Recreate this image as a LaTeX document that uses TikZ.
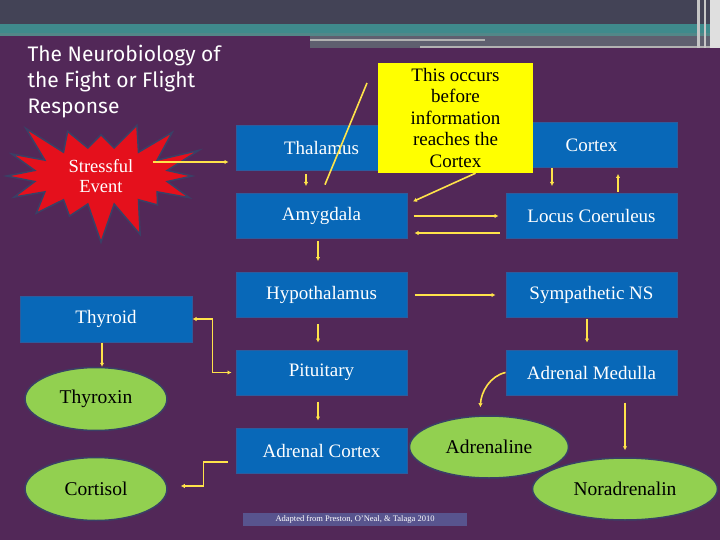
\documentclass[tikz,border=0pt]{standalone}
\usepackage{fontspec}
\setmainfont{Liberation Serif}
\newfontfamily\headfont{Fira Sans}
\usetikzlibrary{arrows.meta,shapes.symbols,shapes.geometric}

\definecolor{slidebg}{HTML}{522858}
\definecolor{topband}{HTML}{434356}
\definecolor{tealband}{HTML}{3F8A8C}
\definecolor{boxblue}{HTML}{0868B8}
\definecolor{boxedge}{HTML}{2C5C9E}
\definecolor{blobgreen}{HTML}{92D050}
\definecolor{blobedge}{HTML}{3A4066}
\definecolor{linkyel}{HTML}{FFE34A}
\definecolor{burstred}{HTML}{E5101C}
\definecolor{notebg}{HTML}{FFFF00}
\definecolor{credbg}{HTML}{58548E}

\begin{document}
\begin{tikzpicture}[x=1pt,y=-1pt,
  box/.style={rectangle,fill=boxblue,draw=boxedge,line width=1pt,
    minimum width=171pt,minimum height=45pt,text=white,
    font=\fontsize{19}{21}\selectfont},
  blob/.style={ellipse,fill=blobgreen,draw=blobedge,line width=1.5pt,
    inner sep=0pt,font=\fontsize{19.5}{21}\selectfont},
  link/.style={draw=linkyel,line width=1.6pt,
    -{Latex[length=4pt,width=4.5pt]},shorten >=7pt},
  pointer/.style={draw=linkyel,line width=1.6pt}]
  \useasboundingbox (0,0) rectangle (720,540);
  % slide background
  \fill[slidebg] (0,0) rectangle (720,540);
  \fill[topband] (0,0) rectangle (720,24);
  \fill[tealband] (0,24) rectangle (720,33);
  \fill[tealband!70!gray] (0,33) rectangle (720,36);
  \fill[topband!85!white] (310,36) rectangle (712,48);
  \fill[gray!60] (310,39) rectangle (485,41);
  \fill[gray!60] (420,46) rectangle (712,48);
  \fill[gray!45] (697,0) rectangle (700,48);
  \fill[gray!45] (704,0) rectangle (706,48);
  \fill[gray!25] (710,0) rectangle (720,48);

  \node[anchor=north west,align=left,text=white,
    font=\headfont\fontsize{21}{26}\selectfont] (title) at (24,42)
    {The Neurobiology of\\the Fight or Flight\\Response};

  \node[starburst,random starburst=3,starburst points=16,
    starburst point height=40pt,fill=burstred,draw=blobedge,line width=1.5pt,
    minimum width=215pt,minimum height=132pt,align=center,text=white,
    font=\fontsize{18.5}{20.5}\selectfont] (stress) at (101,176) {Stressful\\Event};

  % brain column
  \node[box] (thal) at (321.5,148.5) {Thalamus};
  \node[box] (amyg) at (321.5,216) {Amygdala};
  \node[box] (hypo) at (321.5,295) {Hypothalamus};
  \node[box] (pit) at (321.5,372.5) {Pituitary};
  \node[box] (acort) at (321.5,450.5) {Adrenal Cortex};
  % right column
  \node[box] (cortex) at (591.5,145) {Cortex};
  \node[box] (lc) at (591.5,216) {Locus Coeruleus};
  \node[box] (sns) at (591.5,295) {Sympathetic NS};
  \node[box] (amed) at (591.5,372.5) {Adrenal Medulla};
  \node[box,minimum width=172pt,minimum height=46pt] (thyr) at (106,319) {Thyroid};

  \node[blob,minimum width=142pt,minimum height=63pt] (thyx) at (96,399) {Thyroxin};
  \node[blob,minimum width=142pt,minimum height=63pt] (cort) at (96,489) {Cortisol};
  \node[blob,minimum width=159pt,minimum height=62pt] (adrl) at (489,447) {Adrenaline};
  \node[blob,minimum width=185pt,minimum height=62pt] (nadr) at (625,489) {Noradrenalin};

  \coordinate (sx) at (153,162);
  \coordinate (cp) at (367,83);
  \draw[pointer,shorten >=9pt] (cp) -- (amyg.north);

  \node[rectangle,fill=notebg,minimum width=155pt,minimum height=110pt,
    align=center,font=\fontsize{19}{21.5}\selectfont] (note) at (455.5,118)
    {This occurs\\before\\information\\reaches the\\Cortex};
  \draw[link,shorten >=6pt] ([xshift=20pt]note.south) -- ([yshift=12pt]amyg.east);

  \draw[link] (sx) -- ([yshift=-13.5pt]thal.west);
  \draw[link,shorten <=3pt] ([xshift=-15.5pt]thal.south) -- ([xshift=-15.5pt]amyg.north);
  \draw[link,shorten <=6pt] (amyg.east) -- (lc.west);
  \draw[link,shorten <=6pt] ([yshift=-17pt]lc.west) -- ([yshift=-17pt]amyg.east);
  \draw[link,shorten <=2pt,shorten >=11pt] ([xshift=-3.5pt]amyg.south) -- ([xshift=-3.5pt]hypo.north);
  \draw[link,shorten <=7pt,shorten >=10pt] (hypo.east) -- (sns.west);
  \draw[link,shorten <=6pt] ([xshift=-3.5pt]hypo.south) -- ([xshift=-3.5pt]pit.north);
  \draw[link,shorten <=6pt] ([xshift=-3.5pt]pit.south) -- ([xshift=-3.5pt]acort.north);
  \draw[link] ([xshift=-39.5pt]cortex.south) -- ([xshift=-39.5pt]lc.north);
  \draw[link,shorten <=1pt,shorten >=6pt] ([xshift=26.5pt]lc.north) -- ([xshift=26.5pt]cortex.south);
  \draw[link,shorten <=1pt] ([xshift=-4.5pt]sns.south) -- ([xshift=-4.5pt]amed.north);
  \draw[link,shorten <=7pt] ([xshift=33.5pt]amed.south) -- (nadr.north);
  \draw[link,shorten >=8pt] (amed.west) .. controls (490,376) and (481,392) .. ([xshift=-9pt]adrl.north);
  \draw[link,shorten >=0pt] ([xshift=-4pt]thyr.south) -- ([xshift=6pt]thyx.north);
  \draw[draw=linkyel,line width=1.6pt,{Latex[length=4pt,width=4.5pt]}-{Latex[length=4pt,width=4.5pt]},shorten >=4pt]
    (thyr.east) -- ++(20,0) |- (pit.west);
  \draw[link,shorten <=8pt,shorten >=13pt] ([yshift=-11.5pt]acort.west) -- ++(-32,0) |- ([yshift=3pt]cort.east);

  \node[rectangle,fill=credbg,minimum width=224pt,minimum height=13pt,
    inner sep=0pt,text=white,font=\fontsize{8.5}{9}\selectfont] (cred) at (355,519.5)
    {Adapted from Preston, O'Neal, \& Talaga 2010};
\end{tikzpicture}
\end{document}
